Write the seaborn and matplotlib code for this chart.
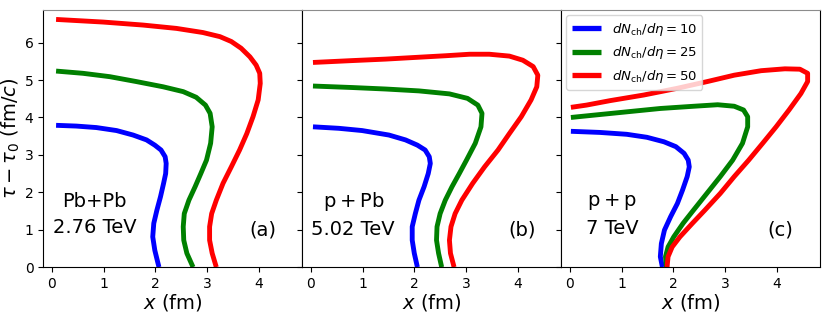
import numpy as np
import pandas as pd
import matplotlib
matplotlib.use("Agg")
import matplotlib.pyplot as plt
import seaborn as sns

# freeze-out surfaces, x (fm) vs tau - tau0 (fm/c)
mult_labels = [r"$dN_{\rm ch}/d\eta = 10$", r"$dN_{\rm ch}/d\eta = 25$", r"$dN_{\rm ch}/d\eta = 50$"]
colors = ["blue", "green", "red"]

# (a) Pb+Pb 2.76 TeV
a_x10 = [2.07, 1.99, 1.95, 1.97, 2.03, 2.1, 2.16, 2.2, 2.21, 2.19, 2.11, 1.99, 1.83, 1.57, 1.25, 0.86, 0.47, 0.08]
a_t10 = [0.0, 0.45, 0.81, 1.17, 1.52, 1.88, 2.24, 2.5, 2.77, 2.95, 3.13, 3.26, 3.4, 3.53, 3.65, 3.73, 3.77, 3.79]
a_x25 = [2.73, 2.61, 2.55, 2.54, 2.56, 2.65, 2.77, 2.88, 2.99, 3.07, 3.1, 3.06, 2.97, 2.79, 2.54, 2.15, 1.63, 1.12, 0.6, 0.08]
a_t25 = [0.0, 0.37, 0.72, 1.08, 1.43, 1.79, 2.15, 2.5, 2.86, 3.31, 3.75, 4.11, 4.33, 4.54, 4.69, 4.82, 4.96, 5.09, 5.18, 5.24]
a_x50 = [3.18, 3.1, 3.05, 3.05, 3.09, 3.18, 3.31, 3.47, 3.63, 3.77, 3.89, 3.99, 4.03, 4.02, 3.95,
         3.83, 3.66, 3.47, 3.25, 2.92, 2.41, 1.76, 0.99, 0.08]
a_t50 = [0.0, 0.37, 0.72, 1.08, 1.43, 1.79, 2.24, 2.68, 3.13, 3.57, 4.02, 4.47, 4.91, 5.18, 5.4,
         5.62, 5.85, 6.03, 6.16, 6.27, 6.38, 6.47, 6.55, 6.62]

# (b) p+Pb 5.02 TeV
b_x10 = [2.06, 2.0, 1.96, 1.96, 2.02, 2.09, 2.19, 2.27, 2.31, 2.29, 2.21, 2.06, 1.83, 1.51, 0.99, 0.54, 0.04]
b_t10 = [0.0, 0.37, 0.72, 1.08, 1.43, 1.79, 2.15, 2.5, 2.77, 2.95, 3.13, 3.26, 3.4, 3.53, 3.65, 3.71, 3.75]
b_x25 = [2.53, 2.47, 2.43, 2.44, 2.5, 2.6, 2.73, 2.87, 3.01, 3.18, 3.29, 3.31, 3.23, 3.03, 2.68, 2.09, 1.45, 0.8, 0.04]
b_t25 = [0.0, 0.37, 0.72, 1.08, 1.43, 1.79, 2.15, 2.5, 2.86, 3.31, 3.75, 4.11, 4.33, 4.51, 4.63, 4.71, 4.76, 4.8, 4.84]
b_x50 = [2.77, 2.7, 2.68, 2.71, 2.79, 2.92, 3.13, 3.36, 3.62, 3.84, 4.07, 4.26, 4.37, 4.39, 4.3, 4.1,
         3.84, 3.45, 3.07, 2.61, 2.09, 1.45, 0.8, 0.04]
b_t50 = [0.0, 0.37, 0.72, 1.08, 1.43, 1.79, 2.24, 2.68, 3.13, 3.57, 4.02, 4.47, 4.82, 5.13, 5.36, 5.53,
         5.64, 5.69, 5.69, 5.65, 5.61, 5.56, 5.52, 5.47]

# (c) p+p 7 TeV
c_x10 = [1.79, 1.75, 1.77, 1.83, 1.95, 2.08, 2.18, 2.27, 2.31, 2.29, 2.21, 2.05, 1.82, 1.49, 1.1, 0.58, 0.02]
c_t10 = [0.0, 0.28, 0.63, 0.99, 1.35, 1.7, 2.06, 2.42, 2.68, 2.86, 3.04, 3.22, 3.35, 3.47, 3.55, 3.6, 3.63]
c_x25 = [1.87, 1.85, 1.9, 2.01, 2.19, 2.39, 2.65, 2.91, 3.15, 3.34, 3.44, 3.44, 3.36, 3.18, 2.86, 2.4, 1.75, 1.1, 0.45, 0.02]
c_t25 = [0.0, 0.28, 0.54, 0.81, 1.17, 1.52, 1.97, 2.42, 2.86, 3.31, 3.75, 4.02, 4.2, 4.3, 4.34, 4.3, 4.24, 4.15, 4.06, 4.0]
c_x50 = [1.88, 1.9, 1.98, 2.13, 2.37, 2.61, 2.91, 3.18, 3.46, 3.73, 3.99, 4.24, 4.47, 4.6, 4.6, 4.45,
         4.16, 3.7, 3.18, 2.66, 2.08, 1.43, 0.78, 0.32, 0.02]
c_t50 = [0.0, 0.28, 0.54, 0.81, 1.17, 1.52, 1.97, 2.42, 2.86, 3.31, 3.75, 4.2, 4.64, 4.96, 5.18, 5.29,
         5.3, 5.25, 5.13, 4.96, 4.78, 4.6, 4.45, 4.33, 4.27]

panels = [
    ([(a_x10, a_t10), (a_x25, a_t25), (a_x50, a_t50)], "Pb+Pb\n2.76 TeV", "(a)"),
    ([(b_x10, b_t10), (b_x25, b_t25), (b_x50, b_t50)], r"$\mathrm{p+Pb}$" + "\n5.02 TeV", "(b)"),
    ([(c_x10, c_t10), (c_x25, c_t25), (c_x50, c_t50)], r"$\mathrm{p+p}$" + "\n7 TeV", "(c)"),
]

fig, axes = plt.subplots(1, 3, figsize=(8.3, 3.15), dpi=100, sharey=True)
fig.subplots_adjust(left=0.052, right=0.988, top=0.968, bottom=0.152, wspace=0)

for i, (ax, (curves, system, tag)) in enumerate(zip(axes, panels)):
    rows = []
    for lab, (xs, ts) in zip(mult_labels, curves):
        for k, (xv, tv) in enumerate(zip(xs, ts)):
            rows.append({"x": xv, "tau": tv, "mult": lab, "k": k})
    df = pd.DataFrame(rows)
    sns.lineplot(data=df, x="x", y="tau", hue="mult", hue_order=mult_labels,
                 palette=colors, sort=False, estimator=None, lw=3.5,
                 legend=(i == 2), ax=ax, solid_joinstyle="round", solid_capstyle="butt")
    ax.set_xlim(-0.17, 4.84)
    ax.set_ylim(0, 6.87)
    ax.set_xticks([0, 1, 2, 3, 4])
    ax.set_yticks([0, 1, 2, 3, 4, 5, 6])
    ax.tick_params(direction="out", length=3.5, labelsize=10)
    ax.set_xlabel(r"$x$ (fm)", fontsize=14, labelpad=1)
    ax.set_ylabel("")
    ax.spines["top"].set_color("0.55")
    ax.text(0.82, 1.4, system, fontsize=14, ha="center", va="center", linespacing=1.45)
    ax.text(4.08, 0.98, tag, fontsize=14, ha="center", va="center")

axes[0].set_ylabel(r"$\tau-\tau_0$ (fm/$c$)", fontsize=14, labelpad=2)

h, l = axes[2].get_legend_handles_labels()
leg = axes[2].legend(h, l, loc="upper left", fontsize=9.5, handlelength=2.25,
                     borderaxespad=0.4, title=None)
for line in leg.get_lines():
    line.set_linewidth(3.8)

fig.savefig("out.png", dpi=100)
